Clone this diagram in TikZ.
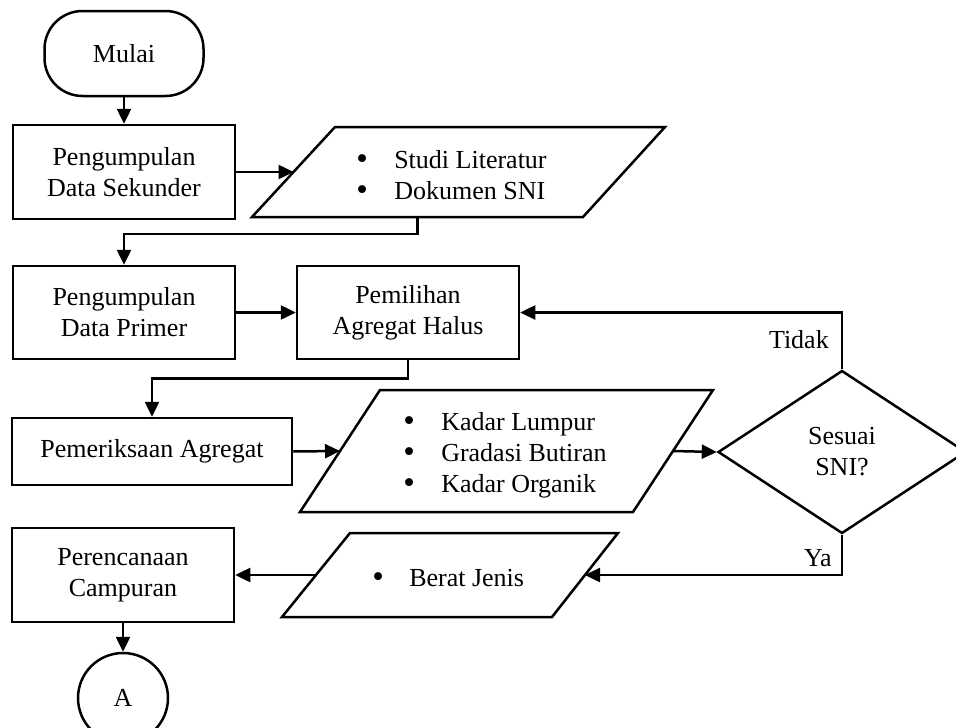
\documentclass[tikz,border=0pt]{standalone}
\usepackage{fontspec}
\setmainfont{Liberation Serif}
\usetikzlibrary{shapes.geometric,arrows.meta,calc}
\newcommand{\bigbul}[1]{\makebox[#1][l]{\raisebox{-1pt}{\fontsize{33}{31}\selectfont\textbullet}}}
\begin{document}
\begin{tikzpicture}[x=1pt,y=-1pt,
  font=\fontsize{26}{31}\selectfont,
  line width=2.5pt,
  box/.style={draw, rectangle, align=center, inner sep=0pt, minimum width=222pt, minimum height=94pt},
  arr/.style={-{Triangle[length=15pt,width=14pt]}},
  lbl/.style={inner sep=0pt, align=left},
]
\useasboundingbox (0,0) rectangle (956,728);
\clip (0,0) rectangle (956,728);

% start and first row
\node[draw, rectangle, rounded corners=38pt, minimum width=159pt, minimum height=85pt] (mulai) at (124,53.5) {Mulai};
\node[box] (r1) at (124,172) {Pengumpulan\\Data Sekunder};
\draw (252,217) coordinate (p1bl) -- (335,127) coordinate (p1tl) -- (665,127) coordinate (p1tr) -- (583,217) coordinate (p1br) -- cycle;
\coordinate (p1l) at ($(p1bl)!0.5!(p1tl)$);
\coordinate (p1b) at ($(p1bl)!0.5!(p1br)$);
\node[lbl, anchor=west] (p1t) at (355,175) {\bigbul{38pt}Studi Literatur\\\bigbul{38pt}Dokumen SNI};

% second row
\node[box, minimum height=93pt] (r2) at (124,312.5) {Pengumpulan\\Data Primer};
\node[box, minimum height=93pt] (r3) at (408,312.5) {Pemilihan\\Agregat Halus};

% third row
\node[box, minimum width=280pt, minimum height=67pt] (r4) at (152,451.5) {Pemeriksaan Agregat};
\draw (300,512) coordinate (p2bl) -- (380,390) coordinate (p2tl) -- (713,390) coordinate (p2tr) -- (633,512) coordinate (p2br) -- cycle;
\coordinate (p2l) at ($(p2bl)!0.5!(p2tl)$);
\coordinate (p2r) at ($(p2br)!0.5!(p2tr)$);
\node[lbl, anchor=west] (p2t) at (402,455) {\bigbul{38pt}Kadar Lumpur\\\bigbul{38pt}Gradasi Butiran\\\bigbul{38pt}Kadar Organik};

\node[draw, diamond, aspect=1.52, minimum width=248pt, minimum height=163pt, inner sep=0pt, align=center] (d) at (842,452) {Sesuai\\SNI?};

% fourth row
\node[box] (r5) at (123,575) {Perencanaan\\Campuran};
\draw (282,617) coordinate (p3bl) -- (350,533) coordinate (p3tl) -- (618,533) coordinate (p3tr) -- (552,617) coordinate (p3br) -- cycle;
\coordinate (p3l) at ($(p3bl)!0.5!(p3tl)$);
\coordinate (p3r) at ($(p3br)!0.5!(p3tr)$);
\node[lbl, anchor=west] (p3t) at (371,578) {\bigbul{37pt}Berat Jenis};

\node[draw, circle, minimum size=90pt, inner sep=0pt] (A) at (123,698) {A};

\node[lbl, anchor=east] (tidak) at (830,340) {Tidak};
\node[lbl, anchor=east] (ya) at (833,558) {Ya};

% connectors
\draw[arr] (mulai.south) -- (r1.north);
\draw[arr] (r1.east) -- (p1l);
\draw[arr] (p1b) -- ++(0,17) -| (r2.north);
\draw[arr] (r2.east) -- (r3.west);
\draw[arr] (r3.south) -- ++(0,18) -| (r4.north);
\draw[arr] (r4.east) -- (p2l);
\draw[arr] (p2r) -- (d.west);
\draw[arr] (d.north) |- (r3.east);
\draw[arr] (d.south) |- (p3r);
\draw[arr] (p3l) -- (r5.east);
\draw[arr] (r5.south) -- (A.north);
\end{tikzpicture}
\end{document}
